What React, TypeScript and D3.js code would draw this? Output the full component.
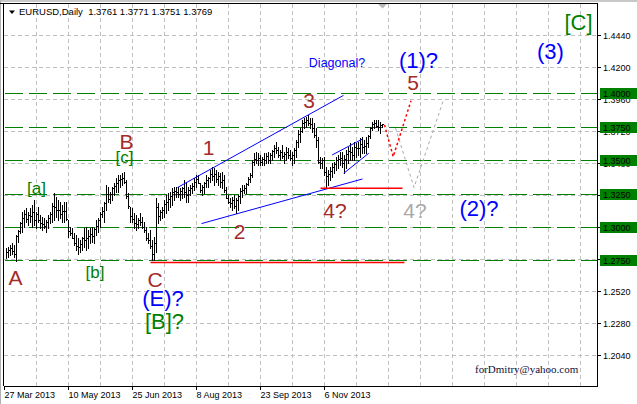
import React from 'react';
import * as d3 from 'd3';

// daily EURUSD bars, 27 Mar 2013 .. 19 Dec 2013
const highs = [
  1.2840, 1.2852, 1.2865, 1.2877, 1.2865, 1.2940, 1.2977, 1.3040, 1.3115, 1.3127,
  1.3140, 1.3115, 1.3140, 1.3165, 1.3202, 1.3115, 1.3152, 1.3090, 1.3077, 1.3065,
  1.3052, 1.3090, 1.3115, 1.3177, 1.3252, 1.3227, 1.3202, 1.3190, 1.3165, 1.3190,
  1.3190, 1.3052, 1.3002, 1.2990, 1.2952, 1.2940, 1.2915, 1.2902, 1.2927, 1.2990,
  1.3002, 1.2977, 1.2990, 1.3002, 1.2990, 1.3052, 1.3065, 1.3115, 1.3152, 1.3190,
  1.3315, 1.3302, 1.3265, 1.3302, 1.3327, 1.3365, 1.3390, 1.3390, 1.3402, 1.3415,
  1.3352, 1.3252, 1.3152, 1.3140, 1.3102, 1.3090, 1.3065, 1.3102, 1.3077, 1.3040,
  1.3002, 1.2952, 1.2977, 1.2902, 1.2927, 1.3215, 1.3180, 1.3127, 1.3152, 1.3202,
  1.3240, 1.3252, 1.3265, 1.3290, 1.3302, 1.3302, 1.3302, 1.3290, 1.3302, 1.3352,
  1.3327, 1.3302, 1.3315, 1.3327, 1.3365, 1.3390, 1.3390, 1.3327, 1.3315, 1.3340,
  1.3390, 1.3377, 1.3427, 1.3452, 1.3440, 1.3427, 1.3415, 1.3402, 1.3415, 1.3390,
  1.3302, 1.3240, 1.3215, 1.3227, 1.3240, 1.3215, 1.3240, 1.3290, 1.3315, 1.3315,
  1.3327, 1.3377, 1.3402, 1.3502, 1.3552, 1.3565, 1.3552, 1.3540, 1.3527, 1.3552,
  1.3552, 1.3565, 1.3552, 1.3577, 1.3615, 1.3640, 1.3602, 1.3577, 1.3615, 1.3565,
  1.3602, 1.3590, 1.3577, 1.3565, 1.3590, 1.3652, 1.3727, 1.3740, 1.3802, 1.3815,
  1.3827, 1.3840, 1.3815, 1.3815, 1.3777, 1.3740, 1.3677, 1.3527, 1.3515, 1.3527,
  1.3452, 1.3427, 1.3452, 1.3477, 1.3490, 1.3527, 1.3540, 1.3565, 1.3565, 1.3540,
  1.3577, 1.3602, 1.3627, 1.3602, 1.3640, 1.3627, 1.3640, 1.3665, 1.3677, 1.3652,
  1.3677, 1.3690, 1.3752, 1.3790, 1.3802, 1.3802, 1.3802, 1.3790, 1.3771,
];
const lows = [
  1.2765, 1.2777, 1.2790, 1.2802, 1.2777, 1.2747, 1.2890, 1.2952, 1.2965, 1.3002,
  1.3040, 1.3015, 1.3040, 1.3002, 1.3015, 1.2990, 1.3040, 1.2990, 1.2977, 1.2990,
  1.2965, 1.2990, 1.3027, 1.3040, 1.3052, 1.3077, 1.3052, 1.3065, 1.3040, 1.3040,
  1.3052, 1.2927, 1.2940, 1.2915, 1.2865, 1.2827, 1.2802, 1.2815, 1.2827, 1.2852,
  1.2827, 1.2840, 1.2877, 1.2890, 1.2877, 1.2940, 1.2965, 1.3002, 1.3077, 1.3040,
  1.3127, 1.3190, 1.3177, 1.3202, 1.3240, 1.3265, 1.3265, 1.3302, 1.3315, 1.3327,
  1.3215, 1.3140, 1.3040, 1.3040, 1.2990, 1.2977, 1.2990, 1.3015, 1.2990, 1.2965,
  1.2902, 1.2877, 1.2840, 1.2752, 1.2752, 1.2815, 1.3030, 1.3052, 1.3065, 1.3077,
  1.3102, 1.3127, 1.3152, 1.3165, 1.3202, 1.3227, 1.3227, 1.3202, 1.3215, 1.3227,
  1.3190, 1.3190, 1.3240, 1.3252, 1.3277, 1.3302, 1.3327, 1.3265, 1.3240, 1.3252,
  1.3302, 1.3302, 1.3340, 1.3352, 1.3315, 1.3340, 1.3315, 1.3302, 1.3290, 1.3265,
  1.3215, 1.3177, 1.3152, 1.3127, 1.3140, 1.3102, 1.3127, 1.3177, 1.3227, 1.3252,
  1.3252, 1.3315, 1.3340, 1.3377, 1.3465, 1.3477, 1.3465, 1.3465, 1.3465, 1.3465,
  1.3477, 1.3477, 1.3477, 1.3502, 1.3527, 1.3552, 1.3527, 1.3502, 1.3515, 1.3477,
  1.3502, 1.3515, 1.3502, 1.3465, 1.3477, 1.3527, 1.3602, 1.3640, 1.3715, 1.3740,
  1.3752, 1.3765, 1.3740, 1.3715, 1.3677, 1.3602, 1.3477, 1.3440, 1.3440, 1.3390,
  1.3290, 1.3315, 1.3352, 1.3377, 1.3402, 1.3427, 1.3440, 1.3465, 1.3452, 1.3402,
  1.3440, 1.3477, 1.3502, 1.3502, 1.3502, 1.3527, 1.3540, 1.3527, 1.3552, 1.3552,
  1.3552, 1.3602, 1.3665, 1.3727, 1.3740, 1.3752, 1.3727, 1.3702, 1.3751,
];
const closes = [
  1.2815, 1.2827, 1.2840, 1.2821, 1.2800, 1.2930, 1.2970, 1.3030, 1.3070, 1.3095,
  1.3060, 1.3090, 1.3080, 1.3110, 1.3050, 1.3095, 1.3050, 1.3030, 1.3025, 1.3010,
  1.3040, 1.3070, 1.3100, 1.3160, 1.3150, 1.3125, 1.3130, 1.3100, 1.3120, 1.3120,
  1.3060, 1.2970, 1.2955, 1.2920, 1.2880, 1.2860, 1.2850, 1.2870, 1.2915, 1.2900,
  1.2920, 1.2930, 1.2950, 1.2930, 1.2985, 1.3010, 1.3050, 1.3100, 1.3120, 1.3180,
  1.3250, 1.3210, 1.3250, 1.3290, 1.3310, 1.3330, 1.3350, 1.3360, 1.3370, 1.3340,
  1.3230, 1.3160, 1.3080, 1.3060, 1.3030, 1.3020, 1.3050, 1.3040, 1.3000, 1.2980,
  1.2920, 1.2900, 1.2860, 1.2800, 1.2880, 1.3150, 1.3080, 1.3110, 1.3130, 1.3170,
  1.3190, 1.3210, 1.3230, 1.3260, 1.3270, 1.3260, 1.3250, 1.3270, 1.3290, 1.3260,
  1.3240, 1.3280, 1.3290, 1.3310, 1.3340, 1.3360, 1.3330, 1.3280, 1.3300, 1.3330,
  1.3350, 1.3370, 1.3400, 1.3380, 1.3400, 1.3360, 1.3380, 1.3340, 1.3350, 1.3280,
  1.3220, 1.3190, 1.3180, 1.3200, 1.3160, 1.3200, 1.3230, 1.3270, 1.3280, 1.3290,
  1.3320, 1.3360, 1.3390, 1.3490, 1.3510, 1.3500, 1.3520, 1.3490, 1.3510, 1.3500,
  1.3530, 1.3500, 1.3540, 1.3570, 1.3590, 1.3580, 1.3540, 1.3560, 1.3530, 1.3550,
  1.3560, 1.3540, 1.3520, 1.3540, 1.3580, 1.3640, 1.3700, 1.3720, 1.3780, 1.3790,
  1.3800, 1.3780, 1.3770, 1.3740, 1.3690, 1.3650, 1.3490, 1.3480, 1.3500, 1.3410,
  1.3380, 1.3400, 1.3420, 1.3450, 1.3470, 1.3500, 1.3510, 1.3520, 1.3480, 1.3510,
  1.3550, 1.3570, 1.3560, 1.3540, 1.3600, 1.3590, 1.3590, 1.3620, 1.3600, 1.3610,
  1.3630, 1.3680, 1.3740, 1.3770, 1.3780, 1.3760, 1.3750, 1.3761, 1.3769,
];

const quote = [1.3761, 1.3771, 1.3751, 1.3769];

const priceTicks = [1.444, 1.42, 1.396, 1.372, 1.348, 1.324, 1.3, 1.276, 1.252, 1.228, 1.204];
const levels = [1.4, 1.375, 1.35, 1.325, 1.3, 1.275];

const dateLabels = ['27 Mar 2013', '10 May 2013', '25 Jun 2013', '8 Aug 2013', '23 Sep 2013', '6 Nov 2013'];
const dateBars = [-1, 31, 63, 95, 127, 159];

// [bar1, price1, bar2, price2]
const channelLines = [
  [85.5, 1.3296, 168.5, 1.3986],
  [97.5, 1.3026, 178, 1.336],
  [162.85, 1.354, 177.85, 1.3658],
  [168.65, 1.3403, 181.15, 1.3553],
];
// [barFrom, barTo, price]
const redLevels = [
  [72, 199, 1.2735],
  [157, 198, 1.329],
];
const redPath = [[189, 1.3765], [193.35, 1.3527], [202.25, 1.3945]];
const grayPath = [[194.5, 1.3742], [203.75, 1.3296], [218.5, 1.3952]];

// [text, bar, price]
const brownLabels: [string, number, number][] = [
  ['A', 4.5, 1.2565], ['B', 60, 1.3585], ['C', 74.25, 1.255],
  ['1', 101, 1.354], ['2', 116.5, 1.2914], ['3', 151.25, 1.3892],
  ['4?', 164.25, 1.3067], ['5', 203.25, 1.4027],
];
const greenLabels: [string, number, number][] = [
  ['[a]', 15, 1.3247], ['[b]', 44.25, 1.2617], ['[c]', 59, 1.348],
];
const blueLabels: [string, number, number][] = [
  ['(E)?', 78.25, 1.2407], ['(1)?', 206, 1.4192], ['(2)?', 236.25, 1.3082], ['(3)', 272, 1.4255],
];
const bigGreenLabels: [string, number, number][] = [
  ['[B]?', 79, 1.2235], ['[C]', 286, 1.4477],
];
const grayLabels: [string, number, number][] = [['4?', 204.25, 1.3067]];
const noteLabel: [string, number, number] = ['Diagonal?', 165.25, 1.42];

const W = 637;
const H = 404;
const left = 4;
const right = 597;
const top = 4;
const bottom = 386;

const SANS = '"Liberation Sans", Arial, sans-serif';

export default function App() {
  const x = d3.scaleLinear().domain([-1, 295]).range([left + 0.5, right - 0.5]);
  const y = d3.scaleLinear().domain([1.181, 1.467]).range([bottom, top]);
  const gridBars = d3.range(15, 290, 16);
  const line = d3.line<number[]>().x(d => x(d[0])).y(d => y(d[1]));

  const label = (list: [string, number, number][], color: string, size: number) =>
    list.map(([t, i, p], k) => (
      <text key={t + k} x={x(i)} y={y(p)} fill={color} fontSize={size} fontFamily={SANS} textAnchor="middle">
        {t}
      </text>
    ));

  return (
    <div style={{ position: 'fixed', left: 0, top: 0 }}>
      <svg width={W} height={H} style={{ display: 'block', background: '#fff' }}>
        {/* window edges */}
        <line x1={0} x2={W} y1={1} y2={1} stroke="#c8c8c8" strokeWidth={2} />
        <line x1={0.5} x2={0.5} y1={0} y2={H} stroke="#b0b0b0" />

        {/* grid */}
        <g stroke="#c0c0c0" strokeDasharray="4,3" shapeRendering="crispEdges">
          {priceTicks.map(p => (
            <line key={p} x1={left} x2={right} y1={Math.round(y(p)) + 0.5} y2={Math.round(y(p)) + 0.5} />
          ))}
          {gridBars.map(i => (
            <line key={i} x1={x(i)} x2={x(i)} y1={top} y2={bottom} />
          ))}
        </g>

        {/* horizontal levels */}
        <g stroke="#008000" strokeDasharray="17.5,6.5" shapeRendering="crispEdges">
          {levels.map(p => (
            <line key={p} x1={left + 1} x2={right} y1={Math.round(y(p)) + 0.5} y2={Math.round(y(p)) + 0.5} />
          ))}
        </g>

        {/* bars */}
        <g stroke="#000" shapeRendering="crispEdges">
          {highs.map((h, i) => (
            <g key={i}>
              <line x1={x(i)} x2={x(i)} y1={y(h)} y2={y(lows[i]) + 1} />
              <line x1={x(i)} x2={x(i) + 1.5} y1={Math.round(y(closes[i])) + 0.5} y2={Math.round(y(closes[i])) + 0.5} />
            </g>
          ))}
        </g>

        {/* channel lines */}
        <g stroke="#0000ff" strokeWidth={1}>
          {channelLines.map((c, k) => (
            <line key={k} x1={x(c[0])} y1={y(c[1])} x2={x(c[2])} y2={y(c[3])} />
          ))}
        </g>
        <g stroke="#ff0000" strokeWidth={1.5}>
          {redLevels.map((r, k) => (
            <line key={k} x1={x(r[0])} x2={x(r[1])} y1={y(r[2])} y2={y(r[2])} />
          ))}
        </g>
        <path d={line(grayPath) || ''} fill="none" stroke="#a8a8a8" strokeWidth={1} strokeDasharray="3,3" />
        <path d={line(redPath) || ''} fill="none" stroke="#ff0000" strokeWidth={1.5} strokeDasharray="2.5,2.5" />

        {/* wave labels */}
        {label(brownLabels, '#a52a2a', 21)}
        {label(greenLabels, '#008000', 17)}
        {label(bigGreenLabels, '#008000', 22)}
        {label(blueLabels, '#0000ff', 22)}
        {label(grayLabels, '#a9a9a9', 21)}
        <text x={x(noteLabel[1])} y={y(noteLabel[2])} fill="#0000ff" fontSize={12.5} fontFamily={SANS} textAnchor="middle">
          {noteLabel[0]}
        </text>
        <text x={475} y={373} fill="#101040" fontSize={11} fontFamily='"Liberation Serif", "Times New Roman", serif'>
          forDmitry@yahoo.com
        </text>

        {/* title */}
        <path d="M9,10.5 L15,10.5 L12,14 Z" fill="#000" />
        <text x={19} y={15} fontSize={9.5} fontFamily={SANS} fill="#000" style={{ whiteSpace: 'pre' }}>
          {`EURUSD,Daily  ${quote.map(v => v.toFixed(4)).join(' ')}`}
        </text>
        <path d="M378,4 L387,4 L382.5,8.5 Z" fill="#b8b8b8" />

        {/* frame and axes */}
        <g stroke="#000" shapeRendering="crispEdges">
          <line x1={0} x2={right} y1={top - 0.5} y2={top - 0.5} />
          <line x1={left - 0.5} x2={left - 0.5} y1={top} y2={bottom} />
          <line x1={left} x2={right} y1={bottom + 0.5} y2={bottom + 0.5} />
          <line x1={right + 0.5} x2={right + 0.5} y1={top - 1} y2={bottom + 1} />
          {priceTicks.map(p => (
            <line key={p} x1={right} x2={right + 4} y1={Math.round(y(p)) + 0.5} y2={Math.round(y(p)) + 0.5} />
          ))}
          {dateBars.map(i => (
            <line key={i} x1={x(i)} x2={x(i)} y1={bottom} y2={bottom + 4} />
          ))}
        </g>
        <g fontSize={9} fontFamily={SANS} fill="#000">
          {priceTicks.map(p => (
            <text key={p} x={603} y={Math.round(y(p)) + 3.5}>{p.toFixed(4)}</text>
          ))}
          {dateBars.map((i, k) => (
            <text key={i} x={x(i)} y={398}>{dateLabels[k]}</text>
          ))}
        </g>
        {/* level price tags */}
        <g fontSize={9} fontFamily={SANS}>
          {levels.map(p => (
            <g key={p}>
              <rect x={600} y={Math.round(y(p)) - 5} width={37} height={11} fill="#008000" />
              <text x={603} y={Math.round(y(p)) + 4} fill="#000">{p.toFixed(4)}</text>
            </g>
          ))}
        </g>
      </svg>
    </div>
  );
}
